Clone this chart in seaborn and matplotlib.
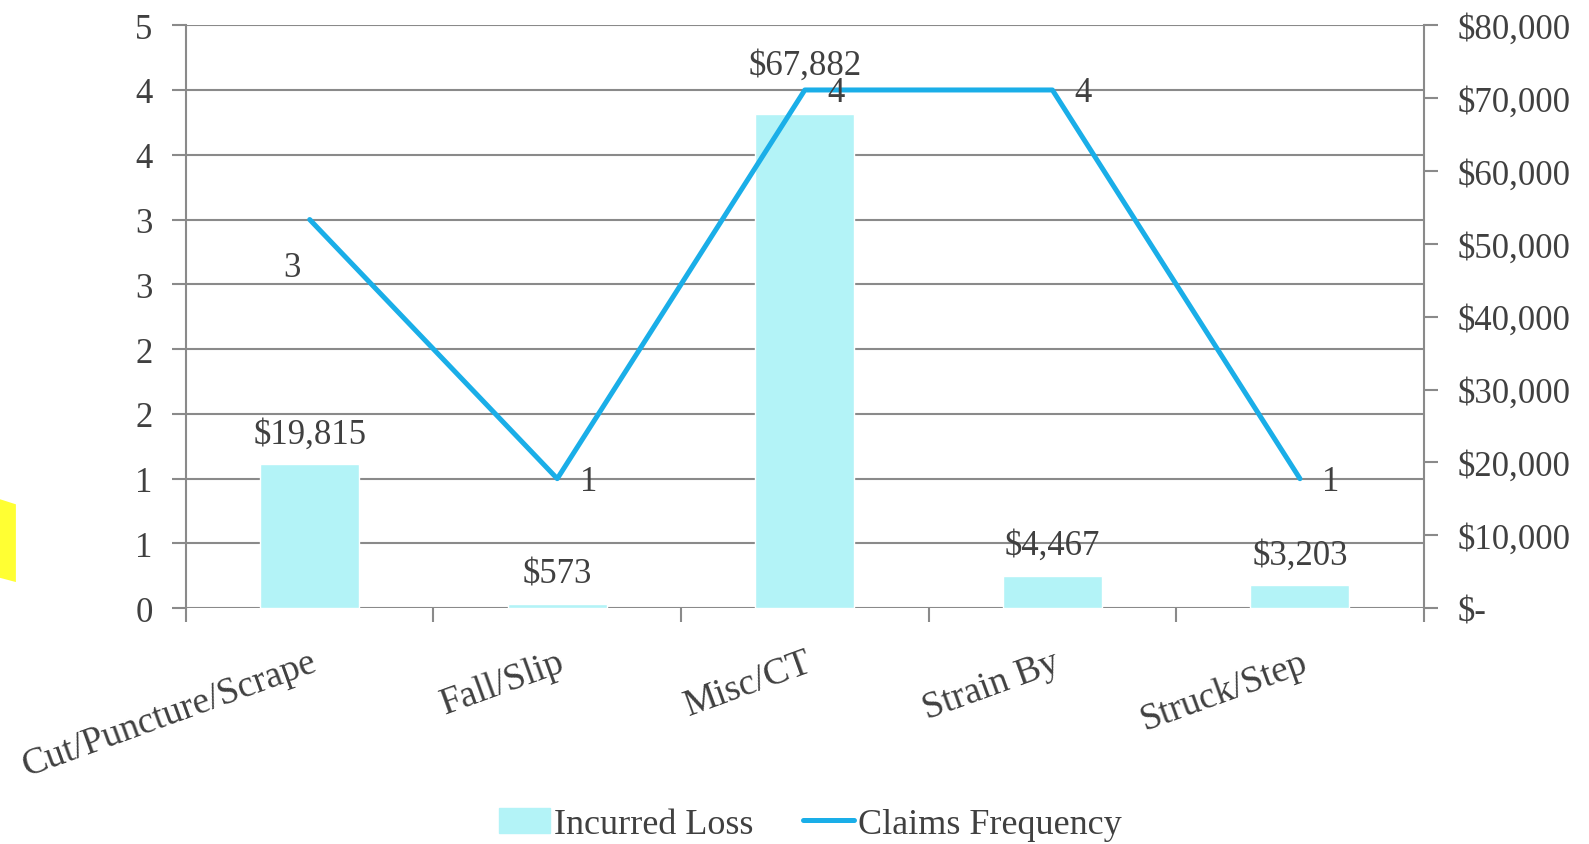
import numpy as np
import matplotlib
matplotlib.use('Agg')
import matplotlib.pyplot as plt
import seaborn as sns
from matplotlib.patches import Patch, Polygon
from matplotlib.lines import Line2D

# dados
categorias = ['Cut/Puncture/Scrape', 'Fall/Slip', 'Misc/CT', 'Strain By', 'Struck/Step']
perda = [19815, 573, 67882, 4467, 3203]          # Incurred Loss (eixo direito)
frequencia = [3, 1, 4, 4, 1]                     # Claims Frequency (eixo esquerdo)
ticks_esq = [0, 0.5, 1, 1.5, 2, 2.5, 3, 3.5, 4, 4.5]
labels_esq = ['0', '1', '1', '2', '2', '3', '3', '4', '4', '5']
ticks_dir = [0, 10000, 20000, 30000, 40000, 50000, 60000, 70000, 80000]
labels_dir = ['$-', '$10,000', '$20,000', '$30,000', '$40,000',
              '$50,000', '$60,000', '$70,000', '$80,000']

sns.set_style('white')
plt.rcParams['font.family'] = ['Liberation Serif', 'DejaVu Serif']
cor_texto = '#404040'
cor_barra = '#b3f3f7'
cor_linha = '#1aaee8'
cor_grade = '#8a8a8a'
fs = 25

fig = plt.figure(figsize=(15.89, 8.45), dpi=100)
ax = fig.add_axes([0.117, 0.279, 0.779, 0.690])   # grade + eixo esquerdo
ax2 = ax.twinx()                                    # barras + eixo direito
ax3 = ax.twinx()                                    # linha por cima

# barras
sns.barplot(x=categorias, y=perda, ax=ax2, color=cor_barra, width=0.4,
            saturation=1, zorder=2)
ax2.set_ylim(0, 80000)
ax2.set_yticks(ticks_dir)
ax2.set_yticklabels(labels_dir, fontsize=fs, color=cor_texto)
for i, v in enumerate(perda):
    dy = 48 if i == 2 else 30
    ax2.annotate(f'${v:,}', (i, v), xytext=(0, dy), textcoords='offset pixels',
                 ha='center', va='center', fontsize=fs, color=cor_texto)

# linha
x_pos = np.arange(len(categorias))
sns.lineplot(x=x_pos, y=frequencia, ax=ax3, color=cor_linha, linewidth=3.6,
             sort=False)
ax3.set_ylim(0, 4.5)
ax3.set_yticks([])
ax3.set_ylabel('')
for i, v in enumerate(frequencia):
    off = (-18, -48) if i == 0 else (31, -3)
    ax3.annotate(str(v), (i, v), xytext=off, textcoords='offset pixels',
                 ha='center', va='center', fontsize=fs, color=cor_texto)

# eixo esquerdo e grade
ax.set_ylim(0, 4.5)
ax.set_xlim(-0.5, 4.5)
ax.set_yticks(ticks_esq)
ax.set_yticklabels(labels_esq, fontsize=fs, color=cor_texto)
for t in ticks_esq:
    ax.axhline(t, color=cor_grade, lw=1.5, zorder=0)
for a in (ax, ax2, ax3):
    a.set_xlim(-0.5, 4.5)
    a.patch.set_visible(False)
    for s in a.spines.values():
        s.set_visible(False)
ax.set_zorder(0)
ax2.set_zorder(1)
ax3.set_zorder(2)

ax.spines['left'].set_visible(True)
ax.spines['left'].set_color(cor_grade)
ax.spines['left'].set_linewidth(1.5)
ax2.spines['right'].set_visible(True)
ax2.spines['right'].set_color(cor_grade)
ax2.spines['right'].set_linewidth(1.5)
ax.tick_params(axis='y', direction='out', length=10, width=1.5, color=cor_grade,
               left=True, pad=14)
ax2.tick_params(axis='y', direction='out', length=10, width=1.5, color=cor_grade,
                right=True, pad=14)
ax2.set_ylabel('')

# eixo x: marcas entre categorias
ax2.set_xticks([])
ax3.set_xticks([])
ax.set_xticks(x_pos)
ax.set_xticklabels(categorias, rotation=20, ha='right', va='top',
                   rotation_mode='anchor', fontsize=27, color=cor_texto)
ax.set_xticks(np.arange(-0.5, 5, 1), minor=True)
ax.tick_params(axis='x', which='major', length=0, pad=26)
ax.tick_params(axis='x', which='minor', direction='out', length=10, width=1.5,
               color=cor_grade, bottom=True)

# legenda
handles = [Patch(color=cor_barra), Line2D([], [], color=cor_linha, lw=3.6)]
fig.legend(handles, ['Incurred Loss', 'Claims Frequency'], loc='lower center',
           bbox_to_anchor=(0.51, -0.035), ncol=2, frameon=False, fontsize=26,
           handlelength=1.4, handletextpad=0.1, columnspacing=1.4,
           labelcolor=cor_texto)

# marca amarela do scan
fig.patches.append(Polygon([[0, 0.408], [0.010, 0.402], [0.010, 0.31], [0, 0.315]],
                           closed=True, transform=fig.transFigure,
                           facecolor='#ffff33', edgecolor='none'))

fig.savefig('out.png', dpi=100)
